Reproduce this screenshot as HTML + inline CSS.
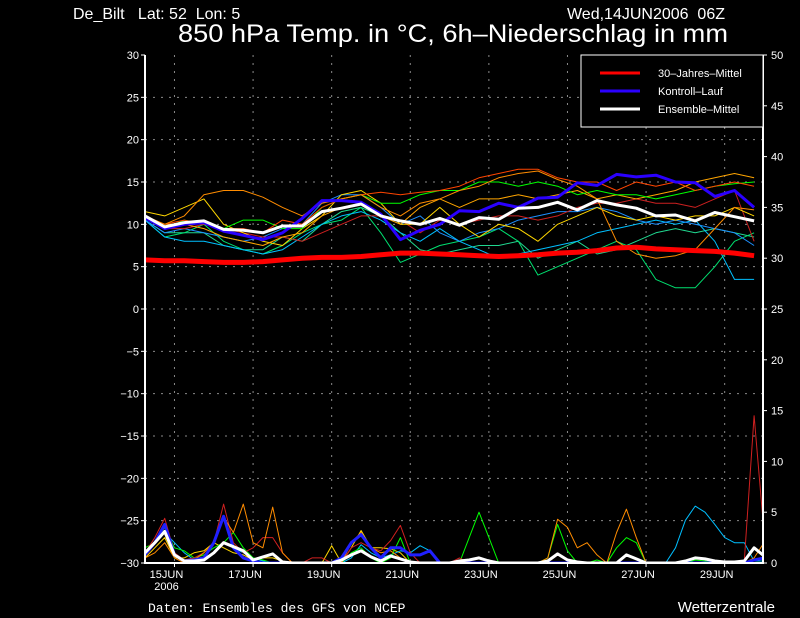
<!DOCTYPE html>
<html><head><meta charset="utf-8"><style>
html,body{margin:0;padding:0;background:#000;}
svg{display:block;}
text{font-family:"Liberation Sans",sans-serif;fill:#fff;white-space:pre;}
</style></head><body>
<svg id="chart" width="800" height="618" viewBox="0 0 800 618" xmlns="http://www.w3.org/2000/svg">
<rect width="800" height="618" fill="#000"/>
<defs><clipPath id="pc"><rect x="145" y="55" width="618" height="508"/></clipPath></defs>
<text x="73" y="19" font-size="16" xml:space="preserve">De_Bilt   Lat: 52  Lon: 5</text>
<text x="725" y="19" font-size="16" text-anchor="end" xml:space="preserve">Wed,14JUN2006  06Z</text>
<text x="453" y="42" font-size="25" text-anchor="middle" textLength="550" lengthAdjust="spacingAndGlyphs">850 hPa Temp. in °C, 6h–Niederschlag in mm</text>
<text x="148" y="612" font-size="13" style="font-family:'Liberation Mono',monospace">Daten: Ensembles des GFS von NCEP</text>
<text x="775" y="612" font-size="15" text-anchor="end">Wetterzentrale</text>
<g id="grid"></g>
<g id="series" clip-path="url(#pc)"></g>
<g id="axes"></g>
<g id="legend"></g>
</svg>
<script>
// ---- data ----
const tempTicks=[30,25,20,15,10,5,0,-5,-10,-15,-20,-25,-30];
const precTicks=[50,45,40,35,30,25,20,15,10,5,0];
const dayLabels=["15JUN","17JUN","19JUN","21JUN","23JUN","25JUN","27JUN","29JUN"];
const dayOffsets=[0.75,2.75,4.75,6.75,8.75,10.75,12.75,14.75];
const climMean=[5.8,5.7,5.7,5.6,5.5,5.5,5.6,5.8,6.0,6.1,6.1,6.2,6.4,6.6,6.6,6.5,6.4,6.3,6.2,6.3,6.4,6.6,6.7,6.9,7.2,7.3,7.1,7.0,6.9,6.8,6.6,6.3];
const controlRun=[10.8,9.5,10.0,10.2,9.2,8.7,8.2,9.0,10.7,12.8,12.8,12.6,11.2,8.2,9.3,10.0,11.6,11.5,12.5,12.0,13.1,13.2,14.9,14.6,15.9,15.6,15.8,15.0,14.9,13.3,14.0,12.0];
const ensMean=[11.0,9.7,10.2,10.4,9.4,9.3,9.0,9.8,9.8,11.5,11.9,12.4,11.0,10.4,10.0,10.7,9.9,10.8,10.6,11.9,12.0,12.6,11.7,12.8,12.3,11.9,11.0,11.1,10.4,11.4,10.9,10.4];
const memOrange=[11,10,11,13.5,14,14,13.2,12,11,12.5,13,13.5,12,11,12.5,13,14,14.5,15.5,16,16.3,15.3,14.5,13,8,6.5,6,6.3,7,9.5,12,11.7];
const memOrangeRed=[11,10,10.5,10,9.5,9.5,9,10.5,10,12,13,13.5,13.8,13.5,13.8,14,14.5,15.5,16,16.5,16.5,15.5,15,15,14,15,14.5,15,14,14.5,15,14.5];
const memGreen=[11,9.5,10.5,10,9.5,10.5,10.5,9.5,9.5,12,13,13.5,12.5,12.5,13.5,14,14,15,15,14.5,15,14.5,13.5,14,13.5,13.5,13,13.5,14,14.5,14.8,15];
const memSpring=[10.5,8.5,9,10,8,7,6.5,7.5,9,10,10.5,12,9,5.5,6.5,7.5,8,8.5,9.5,8,4,5,6,7,8,7,3.5,2.5,2.5,5,8,9];
const memSea=[10.5,9,9,9,7.5,7,7,8.5,8,10,11.5,12,11,9,7,6.5,7,7.5,7.5,8,6,7,8,6.5,7,8,9,9.5,9,9.5,9,8.5];
const memCyan=[10.5,8.5,8,8,7.5,7,6.5,7,8.5,10,11,11.5,10.5,9,8,9.5,8,7,6,6.5,7,7.5,8,9,9.5,10,10.5,10,10.5,8,3.5,3.5];
const memBlue=[10.5,9,9.5,9,8.5,8,8.5,9.5,10,12.5,13.5,13.5,12,10,11,9,8,9,9.5,10.5,11,11.5,11.5,12,11.5,10.5,10,10.5,10,9.5,9,7.5];
const memYellow=[11.5,11,12,13,10,9,8,7.5,9.5,11,13.5,14,12.5,10,10,12,10,8.5,10,9.5,8,10,11,12,11,10.5,11,10.5,11,11,12,11];
const memGold=[11,10,10,9.5,8.5,8,7.5,8.5,9,11,12,12.5,11,10,12,13,12,13,13,13.5,13,13.5,14,13,13.5,13,13.5,14,15,15.5,16,15.5];
const memDarkRed=[10.8,9.5,9.5,10,9.5,9,8.5,8.5,8,9,10,11,11,10.5,9,10.5,10,10.5,11,11,10.5,11,12,12.5,12.5,13,12.5,12.5,12,13,14,8];
// precipitation, 6-hourly
const precMean=[1.0,2.0,3.1,0.8,0.2,0.2,0.3,1.0,2.0,1.6,1.2,0.3,0.6,0.9,0.1,0,0,0,0,0,0.3,0.8,1.2,0.6,0.2,0.7,0.4,0.1,0,0,0,0,0.2,0.3,0.5,0.2,0,0,0,0,0,0.2,0.9,0.3,0.1,0,0,0,0,0.8,0.4,0,0,0,0,0.2,0.5,0.4,0.2,0.1,0.1,0.2,1.5,0.7];
const precOrange=[0.5,1,2,0.5,0,0.3,1,2,4.5,3,5.8,2,1.5,5.5,1,0,0,0,0,0,0,2,3,1.5,1,1.2,0.5,0,0,0,0,0,0,0,0,0,0,0,0,0,0,0.5,4.3,3.5,1.5,2.0,0.8,0,3.0,5.3,2.5,0,0,0,0,0,0,0,0,0,0,0,0.5,2.0];
const precRed=[1,2.5,4.4,1,0.3,0.5,1,2,5.8,2,1,1.5,2.5,2.5,1,0,0,0.5,0.5,0,0,1.5,2,1.5,1.2,2.2,3.7,1,0,0,0,0,0.5,0,0,0,0,0,0,0,0,0,0,0,0,0,0,0,0,0,0,0,0,0,0,0,0,0,0,0,0,0.2,14.5,3.0];
const precGreen=[1.5,2,3.5,1.5,1.2,0.5,0.8,1.5,2,3.0,1.5,0.5,0.3,0,0,0,0,0,0,0,0,1,1.5,0.5,0,0.5,2.5,0,0,0,0,0,0,2.5,5.0,2.5,0,0,0,0,0,0.5,3.8,1.2,0,0,0.3,0,1.5,2.5,2.0,0,0,0,0,0,0.3,0.2,0,0,0,0,0,0];
const precCyan=[1,2,3,2,1,0.3,0.5,1,2,1.5,1,0.5,0.2,0,0,0,0,0,0,0,0,0.5,1.8,1,0.5,0.8,1.2,1.0,1.7,1.2,0,0,0,0,0,0,0,0,0,0,0,0,0,0,0,0,0,0,0,0,0,0,0,0,1.5,4.2,5.6,5,3.8,2.5,2,2,0.2,0.2];
const precBlue=[0.8,2,3.8,0.8,0.2,0.3,0.5,2,4.6,1.5,0.5,0.2,0,0,0,0,0,0,0,0,0.5,2,2.8,1.5,0.5,1.5,1.5,0.8,0.8,1.2,0,0,0,0,0,0,0,0,0,0,0,0,0,0,0,0,0,0,0,0,0,0,0,0,0,0,0,0,0,0,0,0,0.3,0.5];
const precYellow=[0.5,1.5,2.5,0.5,0.5,1,1.2,2,1.5,1,0.8,0.3,0.5,0.5,0.2,0,0,0,0,1.7,0,1.5,3.2,1.5,1.5,1.4,1.0,0,0,0,0,0,0,0,0,0,0,0,0,0,0,0,0,0,0,0,0,0,0,0,0,0,0,0,0,0,0,0,0,0,0,0,0,0];

// ---- axes ----
const X0=145,X1=763,Y0=55,Y1=563,PXDAY=39.3;
const xDay=d=>X0+d*PXDAY;
const yT=v=>Y1-(v+30)*(Y1-Y0)/60;
const yP=v=>Y1-v*(Y1-Y0)/50;
const NS="http://www.w3.org/2000/svg";
function mk(tag,attrs,parent){const e=document.createElementNS(NS,tag);for(const k in attrs)e.setAttribute(k,attrs[k]);parent.appendChild(e);return e;}
const grid=document.getElementById('grid'),axes=document.getElementById('axes'),series=document.getElementById('series'),legend=document.getElementById('legend');

tempTicks.forEach(v=>{
  const y=yT(v);
  if(v>-30&&v<30){const g=mk('line',{x1:X0,x2:X1,y1:y,y2:y,stroke:'#8a8a8a','stroke-width':1,'stroke-dasharray':'2,6'},grid);
  
  }
  const t=mk('line',{x1:X0-4,x2:X0,y1:y,y2:y,stroke:'#fff','stroke-width':1},axes);
  
  
  const l=mk('text',{x:X0-6,y:y+4,'font-size':11,'text-anchor':'end'},axes);l.textContent=v<0?'−'+(-v):v;
  
  
});
precTicks.forEach(v=>{
  const y=yP(v);
  const t=mk('line',{x1:X1,x2:X1+4,y1:y,y2:y,stroke:'#fff','stroke-width':1},axes);
  
  
  const l=mk('text',{x:X1+8,y:y+4,'font-size':11},axes);l.textContent=v;
  
  
});
dayLabels.forEach((d,i)=>{
  const x=xDay(dayOffsets[i]);
  const g=mk('line',{x1:x,x2:x,y1:Y0,y2:Y1,stroke:'#8a8a8a','stroke-width':1,'stroke-dasharray':'2,6'},grid);
  
  
  const t=mk('line',{x1:x,x2:x,y1:Y1,y2:Y1+4,stroke:'#fff'},axes);
  
  
  const l=mk('text',{x:x-8,y:Y1+15,'font-size':11,'text-anchor':'middle'},axes);l.textContent=d;
  
  
});
const yr=mk('text',{x:xDay(0.75)-8,y:Y1+27,'font-size':11,'text-anchor':'middle'},axes);yr.textContent="2006";


[[X0,Y0,X0,Y1+1],[X1,Y0,X1,Y1+1],[X0-1,Y1,X1+1,Y1]].forEach(c=>{
  const a=mk('line',{x1:c[0],y1:c[1],x2:c[2],y2:c[3],stroke:'#fff','stroke-width':2},axes);
  
  
});

function drawSeries(vals,stepDays,yf,color,w,name){
  const pts=vals.map((v,i)=>xDay(i*stepDays).toFixed(1)+','+yf(v).toFixed(1)).join(' ');
  const p=mk('polyline',{points:pts,fill:'none',stroke:color,'stroke-width':w,'stroke-linejoin':'round'},series);
  
  
}
// precipitation
drawSeries(precYellow,0.25,yP,'#ffd700',1,'precip-member-yellow');
drawSeries(precCyan,0.25,yP,'#00bfff',1,'precip-member-cyan');
drawSeries(precGreen,0.25,yP,'#00ff00',1,'precip-member-green');
drawSeries(precRed,0.25,yP,'#d02020',1,'precip-member-red');
drawSeries(precOrange,0.25,yP,'#ff8c00',1,'precip-member-orange');
drawSeries(precBlue,0.25,yP,'#2020ff',3,'precip-control');
drawSeries(precMean,0.25,yP,'#ffffff',3,'precip-ensemble-mean');
// temperature members
drawSeries(memSea,0.5,yT,'#20d890',1,'temp-member-seagreen');
drawSeries(memSpring,0.5,yT,'#00e070',1,'temp-member-springgreen');
drawSeries(memCyan,0.5,yT,'#00c0ff',1,'temp-member-cyan');
drawSeries(memBlue,0.5,yT,'#1e90ff',1,'temp-member-blue');
drawSeries(memDarkRed,0.5,yT,'#cc2020',1,'temp-member-darkred');
drawSeries(memYellow,0.5,yT,'#ffd700',1,'temp-member-yellow');
drawSeries(memGold,0.5,yT,'#ffa500',1,'temp-member-gold');
drawSeries(memGreen,0.5,yT,'#00ff00',1,'temp-member-green');
drawSeries(memOrangeRed,0.5,yT,'#ff4500',1,'temp-member-orangered');
drawSeries(memOrange,0.5,yT,'#ff8c00',1,'temp-member-orange');
drawSeries(climMean,0.5,yT,'#ff0000',5,'climate-mean-line');
drawSeries(controlRun,0.5,yT,'#2a00ff',3,'control-run-line');
drawSeries(ensMean,0.5,yT,'#ffffff',3,'ensemble-mean-line');

// legend
const box=mk('rect',{x:581,y:55,width:182,height:72,fill:'#000',stroke:'#fff','stroke-width':1},legend);


[['30–Jahres–Mittel','#ff0000',73],['Kontroll–Lauf','#2a00ff',91],['Ensemble–Mittel','#ffffff',109]].forEach(e=>{
  const l=mk('line',{x1:600,x2:640,y1:e[2],y2:e[2],stroke:e[1],'stroke-width':3},legend);
  
  
  const t=mk('text',{x:658,y:e[2]+4,'font-size':11},legend);t.textContent=e[0];
  
  
});
</script>
</body></html>
